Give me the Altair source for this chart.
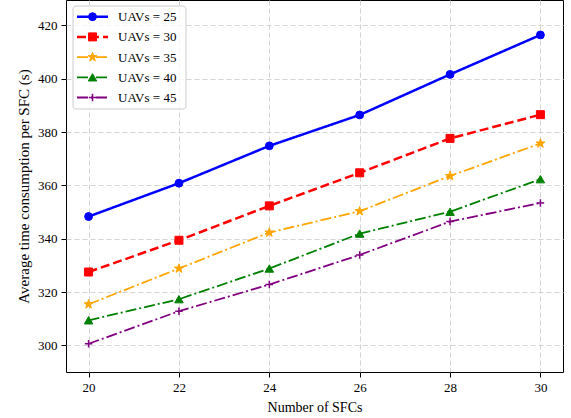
import math

import altair as alt
import pandas as pd

# Number of SFCs on the x axis
sfc_counts = [20, 22, 24, 26, 28, 30]

# Average time per SFC (s) for each UAV fleet size
uav_counts = [25, 30, 35, 40, 45]
time_uav25 = [348.3, 360.8, 374.8, 386.4, 401.6, 416.4]
time_uav30 = [327.5, 339.4, 352.3, 364.7, 377.6, 386.5]
time_uav35 = [315.4, 328.8, 342.3, 350.3, 363.5, 375.7]
time_uav40 = [309.4, 317.3, 328.8, 341.9, 350.1, 362.3]
time_uav45 = [300.6, 312.8, 322.8, 333.9, 346.4, 353.4]
series_values = [time_uav25, time_uav30, time_uav35, time_uav40, time_uav45]

FONT = "Liberation Serif"


def star_path(inner=0.4):
    pts = []
    for k in range(10):
        r = 1.0 if k % 2 == 0 else inner
        a = -math.pi / 2 + k * math.pi / 5
        pts.append(f"{r * math.cos(a):.3f},{r * math.sin(a):.3f}")
    return "M" + "L".join(pts) + "Z"


PLUS = "M-1,0L1,0M0,-1L0,1"

# per-series drawing style: colour, dash, line width, marker shape, size, filled
styles = [
    dict(color="blue", dash=[1, 0], width=2.5, shape="circle", size=62, filled=True),
    dict(color="red", dash=[9, 4], width=2.5, shape="square", size=64, filled=True),
    dict(color="orange", dash=[11, 3, 2, 3], width=1.8, shape=star_path(), size=90, filled=True),
    dict(color="green", dash=[11, 3, 2, 3], width=1.8, shape="triangle-up", size=72, filled=True),
    dict(color="purple", dash=[11, 3, 2, 3], width=1.8, shape=PLUS, size=56, filled=False),
]

x_scale = alt.Scale(domain=[19.5, 30.5], nice=False, zero=False)
y_scale = alt.Scale(domain=[290, 429.5], nice=False, zero=False)

x_axis = alt.Axis(
    title="Number of SFCs",
    values=sfc_counts,
    format="d",
    labelPadding=4,
    titlePadding=6,
    titleFontSize=14,
)
y_axis = alt.Axis(
    title="Average time consumption per SFC (s)",
    values=[300, 320, 340, 360, 380, 400, 420],
    format="d",
    labelPadding=4,
    titlePadding=6,
    titleFontSize=15,
)

layers = []
for i, (n, vals, st) in enumerate(zip(uav_counts, series_values, styles)):
    df = pd.DataFrame({"sfc": sfc_counts, "time": vals, "label": f"UAVs = {n}"})
    base = alt.Chart(df)
    enc = dict(
        x=alt.X("sfc:Q", scale=x_scale, axis=x_axis),
        y=alt.Y("time:Q", scale=y_scale, axis=y_axis),
    )
    line = base.mark_line(
        color=st["color"], strokeDash=st["dash"], strokeWidth=st["width"]
    ).encode(**enc)
    if st["filled"]:
        pts = base.mark_point(
            shape=st["shape"], size=st["size"], filled=True,
            fill=st["color"], stroke=st["color"], strokeWidth=1, opacity=1,
        ).encode(**enc)
    else:
        pts = base.mark_point(
            shape=st["shape"], size=st["size"], filled=False,
            stroke=st["color"], strokeWidth=1.5, opacity=1,
        ).encode(**enc)
    layers += [line, pts]

# legend box in the upper-left corner
legend_layers = [
    alt.Chart(pd.DataFrame({"k": [0]})).mark_rect(
        fill="white", fillOpacity=0.8, stroke="#cccccc", strokeWidth=1, cornerRadius=3
    ).encode(x=alt.value(7), x2=alt.value(120), y=alt.value(6), y2=alt.value(109))
]
for i, (n, st) in enumerate(zip(uav_counts, styles)):
    row_y = 16.7 + 20.2 * i
    one = pd.DataFrame({"label": [f"UAVs = {n}"]})
    legend_layers.append(
        alt.Chart(one).mark_rule(
            color=st["color"], strokeDash=st["dash"], strokeWidth=st["width"]
        ).encode(x=alt.value(11), x2=alt.value(42), y=alt.value(row_y))
    )
    if st["filled"]:
        mk = alt.Chart(one).mark_point(
            shape=st["shape"], size=st["size"], filled=True,
            fill=st["color"], stroke=st["color"], strokeWidth=1, opacity=1,
        )
    else:
        mk = alt.Chart(one).mark_point(
            shape=st["shape"], size=st["size"], filled=False,
            stroke=st["color"], strokeWidth=1.5, opacity=1,
        )
    legend_layers.append(mk.encode(x=alt.value(26.5), y=alt.value(row_y)))
    legend_layers.append(
        alt.Chart(one).mark_text(
            align="left", baseline="middle", font=FONT, fontSize=13, color="black"
        ).encode(text="label:N", x=alt.value(52), y=alt.value(row_y + 0.5))
    )

chart = (
    alt.layer(*layers, *legend_layers)
    .properties(
        width=497,
        height=372,
        background="white",
        autosize=alt.AutoSizeParams(type="none"),
        padding={"left": 66, "top": 0, "right": 8, "bottom": 46},
    )
    .configure_view(stroke="black", strokeWidth=1)
    .configure_axis(
        domain=False,
        grid=True,
        gridColor="#d3d3d3",
        gridDash=[5, 3],
        gridWidth=1,
        ticks=True,
        tickColor="black",
        tickSize=5,
        tickWidth=1,
        labelFont=FONT,
        labelFontSize=13,
        labelColor="black",
        titleFont=FONT,
        titleFontWeight="normal",
        titleColor="black",
    )
)

chart.save("out.html", embed_options={"renderer": "svg", "actions": False})
